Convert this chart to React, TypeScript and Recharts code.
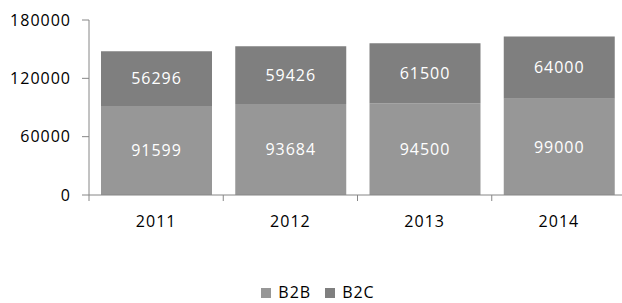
import React from "react";
import { BarChart, Bar, XAxis, YAxis, Legend, LabelList } from "recharts";

const years = ["2011", "2012", "2013", "2014"];
const b2b = [91599, 93684, 94500, 99000];
const b2c = [56296, 59426, 61500, 64000];
const yTicks = [0, 60000, 120000, 180000];

const data = years.map((y, i) => ({ year: y, B2B: b2b[i], B2C: b2c[i] }));

const AXIS = "#868686";
const B2B_COLOR = "#979797";
const B2C_COLOR = "#7f7f7f";

const CategoryTick = (props: any) => {
  const { x, y, payload, index, visibleTicksCount } = props;
  const off = payload && typeof payload.offset === "number" ? payload.offset : 67;
  const isLast = index === (visibleTicksCount ?? years.length) - 1;
  return (
    <g>
      <line x1={x - off} x2={x - off} y1={y} y2={y + 6} stroke={AXIS} strokeWidth={1} />
      {isLast && <line x1={x + off} x2={x + off} y1={y} y2={y + 6} stroke={AXIS} strokeWidth={1} />}
      <text x={x} y={y + 32} textAnchor="middle" fill="#000">
        {payload.value}
      </text>
    </g>
  );
};

const LegendContent = (props: any) => {
  const { payload } = props;
  return (
    <div
      style={{
        display: "flex",
        justifyContent: "center",
        alignItems: "center",
        height: 20,
        paddingLeft: 2,
        fontFamily: "Open Sans",
        fontSize: 16,
        letterSpacing: 1,
        color: "#000",
      }}
    >
      {(payload || []).map((p: any, i: number) => (
        <div key={i} style={{ display: "flex", alignItems: "center", marginRight: i === payload.length - 1 ? 0 : 14 }}>
          <span style={{ display: "inline-block", width: 10, height: 10, background: p.color, marginRight: 7, position: "relative", top: -3 }} />
          <span style={{ lineHeight: "20px", position: "relative", top: -4 }}>{p.value}</span>
        </div>
      ))}
    </div>
  );
};

export default function App() {
  return (
    <div
      style={{
        position: "absolute",
        left: 8,
        top: 8,
        width: 614,
        height: 295,
        overflow: "hidden",
        fontFamily: "Open Sans",
        fontSize: 16,
        letterSpacing: 1,
        background: "#fff",
      }}
    >
      <BarChart width={620} height={300} data={data} margin={{ top: 12, right: 2, bottom: 2, left: 0 }}>
        <XAxis
          dataKey="year"
          height={91}
          axisLine={{ stroke: AXIS }}
          tickLine={false}
          tickSize={0}
          tickMargin={0}
          tick={<CategoryTick />}
          interval={0}
        />
        <YAxis
          width={81}
          domain={[0, 180000]}
          ticks={yTicks}
          interval={0}
          axisLine={{ stroke: AXIS }}
          tickLine={{ stroke: AXIS }}
          tickSize={7}
          tickMargin={11}
          tick={{ fill: "#000", fontSize: 16 }}
        />
        <Legend verticalAlign="bottom" content={<LegendContent />} />
        <Bar dataKey="B2B" stackId="a" fill={B2B_COLOR} barSize={111} isAnimationActive={false}>
          <LabelList dataKey="B2B" position="center" fill="#fff" fontSize={16} />
        </Bar>
        <Bar dataKey="B2C" stackId="a" fill={B2C_COLOR} barSize={111} isAnimationActive={false}>
          <LabelList dataKey="B2C" position="center" fill="#fff" fontSize={16} />
        </Bar>
      </BarChart>
    </div>
  );
}
